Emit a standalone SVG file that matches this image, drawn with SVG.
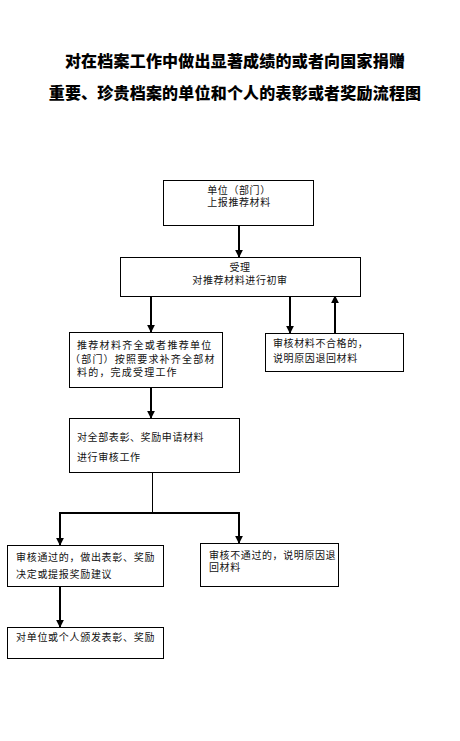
<svg xmlns="http://www.w3.org/2000/svg" width="460" height="741" viewBox="0 0 460 741">
<style>
.bg{fill:#fff}
.box{fill:#fff;stroke:#000;stroke-width:1}
.t{font-family:"Liberation Sans","Noto Sans CJK SC",sans-serif;font-size:10px;fill:#111;letter-spacing:0.6px}
.title{font-family:"Noto Sans CJK SC",sans-serif;font-size:16px;font-weight:900;fill:#000;text-anchor:middle;letter-spacing:0.2px}
.a{stroke:#000;stroke-width:2;fill:none;marker-end:url(#ah)}
.l{stroke:#000;fill:none}
</style>
<defs>
<marker id="ah" viewBox="0 0 10 10" refX="9" refY="5" markerWidth="4" markerHeight="4" orient="auto" markerUnits="strokeWidth">
<path d="M0,0 L10,5 L0,10 z" fill="#000"/>
</marker>
</defs>
<rect class="bg" width="460" height="741"/>
<g id="title">
<text class="title" x="235" y="67">对在档案工作中做出显著成绩的或者向国家捐赠</text>
<text class="title" x="235" y="99">重要、珍贵档案的单位和个人的表彰或者奖励流程图</text>
</g>
<g id="connectors">
<line class="a" x1="239" y1="225" x2="239" y2="257"/>
<line class="a" x1="151" y1="296" x2="151" y2="332"/>
<line class="a" x1="290" y1="296" x2="290" y2="333"/>
<line class="a" x1="335" y1="333" x2="335" y2="296"/>
<line class="a" x1="151" y1="387" x2="151" y2="418"/>
<line class="l" x1="152.5" y1="472" x2="152.5" y2="513" stroke-width="1"/>
<line class="l" x1="59" y1="513" x2="240" y2="513" stroke-width="2"/>
<line class="a" x1="60" y1="512" x2="60" y2="545"/>
<line class="a" x1="239" y1="512" x2="239" y2="543"/>
<line class="a" x1="60" y1="586" x2="60" y2="627"/>
</g>
<g id="n1">
<rect class="box" x="163.5" y="180.5" width="150" height="45"/>
<text class="t" x="239" y="194" text-anchor="middle">单位（部门）</text>
<text class="t" x="239" y="206" text-anchor="middle">上报推荐材料</text>
</g>
<g id="n2">
<rect class="box" x="120.5" y="257.5" width="240" height="39"/>
<text class="t" x="240" y="271" text-anchor="middle">受理</text>
<text class="t" x="240" y="284" text-anchor="middle">对推荐材料进行初审</text>
</g>
<g id="n3">
<rect class="box" x="69.5" y="332.5" width="153" height="55"/>
<text class="t" x="77" y="349" style="letter-spacing:1.3px">推荐材料齐全或者推荐单位</text>
<text class="t" x="70" y="363" style="letter-spacing:1.2px">（部门）按照要求补齐全部材</text>
<text class="t" x="77" y="376" style="letter-spacing:1.2px">料的，完成受理工作</text>
</g>
<g id="n4">
<rect class="box" x="265.5" y="333.5" width="138" height="38"/>
<text class="t" x="273" y="347">审核材料不合格的，</text>
<text class="t" x="273" y="362">说明原因退回材料</text>
</g>
<g id="n5">
<rect class="box" x="69.5" y="418.5" width="170" height="54"/>
<text class="t" x="77" y="441">对全部表彰、奖励申请材料</text>
<text class="t" x="77" y="461">进行审核工作</text>
</g>
<g id="n6">
<rect class="box" x="7.5" y="545.5" width="156" height="41"/>
<text class="t" x="16" y="561" style="letter-spacing:0.7px">审核通过的，做出表彰、奖励</text>
<text class="t" x="16" y="578" style="letter-spacing:0.7px">决定或提报奖励建议</text>
</g>
<g id="n7">
<rect class="box" x="200.5" y="543.5" width="138" height="43"/>
<text class="t" x="209" y="559">审核不通过的，说明原因退</text>
<text class="t" x="209" y="571">回材料</text>
</g>
<g id="n8">
<rect class="box" x="7.5" y="627.5" width="156" height="31"/>
<text class="t" x="16" y="641" style="letter-spacing:0.7px">对单位或个人颁发表彰、奖励</text>
</g>
</svg>
